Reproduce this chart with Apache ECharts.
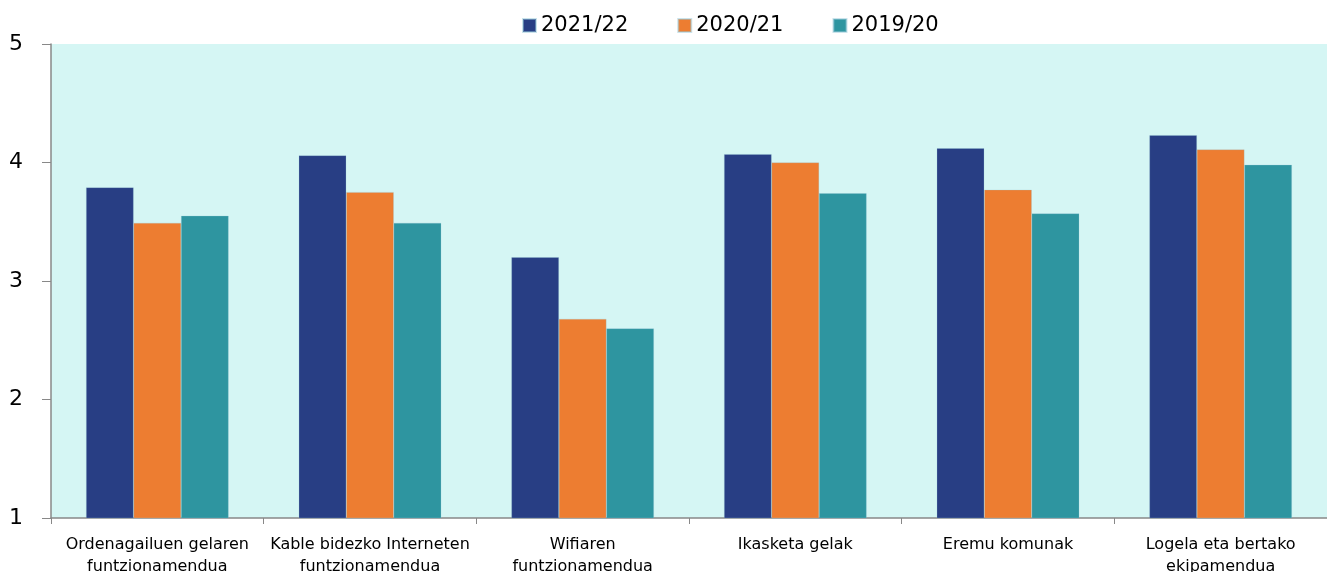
<!DOCTYPE html>
<html><head><meta charset="utf-8">
<script src="https://cdn.jsdelivr.net/npm/echarts@6/dist/echarts.min.js"></script>
<style>html,body{margin:0;padding:0;background:#fff}#c{width:1327px;height:572px}</style>
</head><body><div id="c"></div>
<script>
const categories = ["Ordenagailuen gelaren\nfuntzionamendua","Kable bidezko Interneten\nfuntzionamendua","Wifiaren\nfuntzionamendua","Ikasketa gelak","Eremu komunak","Logela eta bertako\nekipamendua"];
const seriesNames = ["2021/22","2020/21","2019/20"];
const s2021 = [3.79, 4.06, 3.20, 4.07, 4.12, 4.23];
const s2020 = [3.49, 3.75, 2.68, 4.00, 3.77, 4.11];
const s2019 = [3.55, 3.49, 2.60, 3.74, 3.57, 3.98];
const colors = ["#283e84","#ed7d31","#2e95a0"];
const font = "Tahoma, 'DejaVu Sans', sans-serif";
const chart = echarts.init(document.getElementById('c'), null, {renderer:'canvas'});
const data = [s2021, s2020, s2019];
chart.setOption({
  animation:false,
  textStyle:{fontFamily:font},
  legend:{top:15,left:522,padding:0,itemWidth:13,itemHeight:13,itemGap:49,icon:'rect',
    textStyle:{fontSize:21,color:'#000',fontFamily:font},data:seriesNames},
  grid:{left:51,right:0,top:44,bottom:54,show:true,backgroundColor:'#d5f6f4',borderWidth:0,
    outerBoundsMode:'none',containLabel:false},
  xAxis:{type:'category',data:categories,
    axisLine:{lineStyle:{color:'#888',width:1.5}},
    axisTick:{show:true,length:6,lineStyle:{color:'#888'}},
    axisLabel:{interval:0,fontSize:16,color:'#000',lineHeight:22,margin:16,fontFamily:font}},
  yAxis:{type:'value',min:1,max:5,interval:1,
    axisLine:{show:true,lineStyle:{color:'#888',width:1.5}},
    axisTick:{show:true,length:9,lineStyle:{color:'#888'}},
    splitLine:{show:false},
    axisLabel:{fontSize:22,color:'#000',margin:28,fontFamily:font}},
  series: seriesNames.map((n,i)=>({name:n,type:'bar',data:data[i],barGap:'0%',barCategoryGap:'33%',
    itemStyle:{color:colors[i],borderColor:'rgba(150,200,215,0.5)',borderWidth:0.5}}))
});
</script></body></html>
